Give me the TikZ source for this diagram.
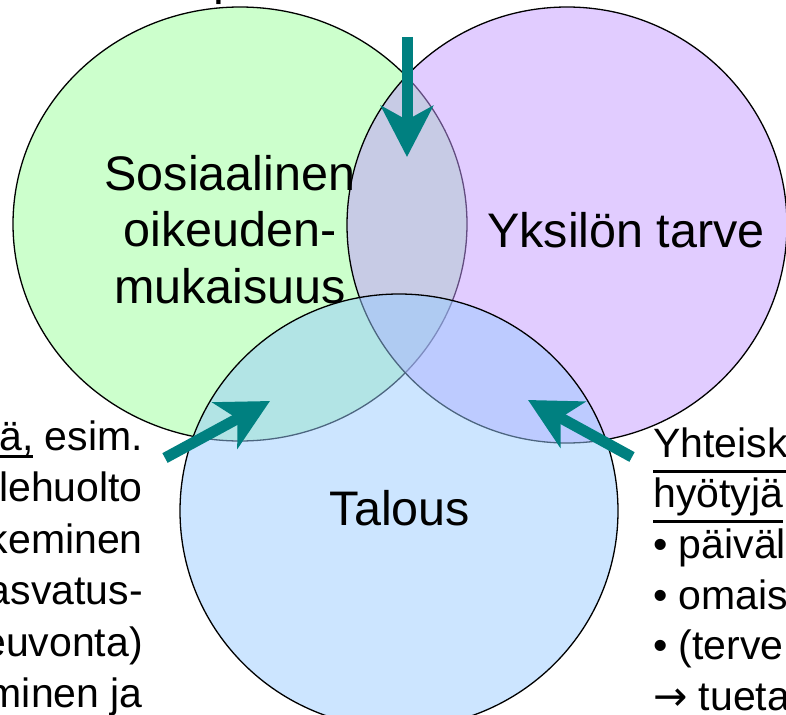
\documentclass[tikz,border=0pt]{standalone}
\usepackage{fontspec}
\setmainfont{Liberation Sans}
\newfontfamily\symfont{DejaVu Sans}
\usetikzlibrary{arrows.meta,shapes.geometric}
\definecolor{cgreen}{RGB}{204,255,204}
\definecolor{cpurple}{RGB}{196,153,255}
\definecolor{cblue}{RGB}{153,203,255}
\definecolor{cteal}{RGB}{0,128,128}
\newcommand\myul[2][0.38em]{\setbox0\hbox{#2}\rlap{\raisebox{-#1}[0pt][0pt]{\rule{\wd0}{0.075em}}}\box0\relax}
\newcommand\mylines[2]{\begin{tabular}[t]{@{}#1@{}}#2\end{tabular}}
\begin{document}
\begin{tikzpicture}[x=1pt,y=-1pt,
  circ/.style={ellipse, draw=black, line width=1.3pt, inner sep=0pt, outer sep=0pt},
  bigtext/.style={font=\fontsize{48.5pt}{56.5pt}\selectfont, inner sep=0pt, anchor=base},
  lefttextstyle/.style={font=\fontsize{41pt}{51.5pt}\selectfont, inner sep=0pt, anchor=base east},
  righttextstyle/.style={font=\fontsize{41pt}{50.7pt}\selectfont, inner sep=0pt, anchor=base west},
  arr/.style={line width=11pt, draw=cteal, -{Stealth[length=51pt,width=52pt,inset=14pt,fill=cteal]}}]
\useasboundingbox (0,0) rectangle (786,714);
% circles
\node[circ, fill=cgreen, minimum width=454pt, minimum height=434pt] (green) at (240,224) {};
\node[circ, fill=cpurple, fill opacity=0.5, minimum width=440pt, minimum height=436pt] (purple) at (567,225) {};
\node[circ, fill=cblue, fill opacity=0.5, minimum width=438pt, minimum height=434pt] (blue) at (399,511) {};
% arrows
\coordinate (t1) at (407,37);  \coordinate (h1) at (407,157);
\coordinate (t2) at (165,458); \coordinate (h2) at (270,401);
\coordinate (t3) at (632,457); \coordinate (h3) at (528,400);
\draw[arr] (t1) -- (h1);
\draw[arr] (t2) -- (h2);
\draw[arr] (t3) -- (h3);
% texts
\node[bigtext, anchor=base west] (toptext) at (213,-5) {p};
\node[bigtext] (sos) at (230,190) {\mylines{c}{Sosiaalinen\\oikeuden-\\mukaisuus}};
\node[bigtext] (yks) at (626,247) {Yksilön tarve};
\node[bigtext] (tal) at (400,525) {Talous};
\node[lefttextstyle] (lefttext) at (143,450) {\mylines{r}{\myul[0.2em]{ä,} esim.\\ lehuolto\\ keminen\\ asvatus-\\ euvonta)\\ minen ja}};
\node[righttextstyle] (righttext) at (653,457) {\mylines{l}{\myul{Yhteisk}\\ \myul{hyötyjä}\\ • päiväl\\ • omais\\ • (terve\\ {\symfont →} tueta}};
\end{tikzpicture}
\end{document}
